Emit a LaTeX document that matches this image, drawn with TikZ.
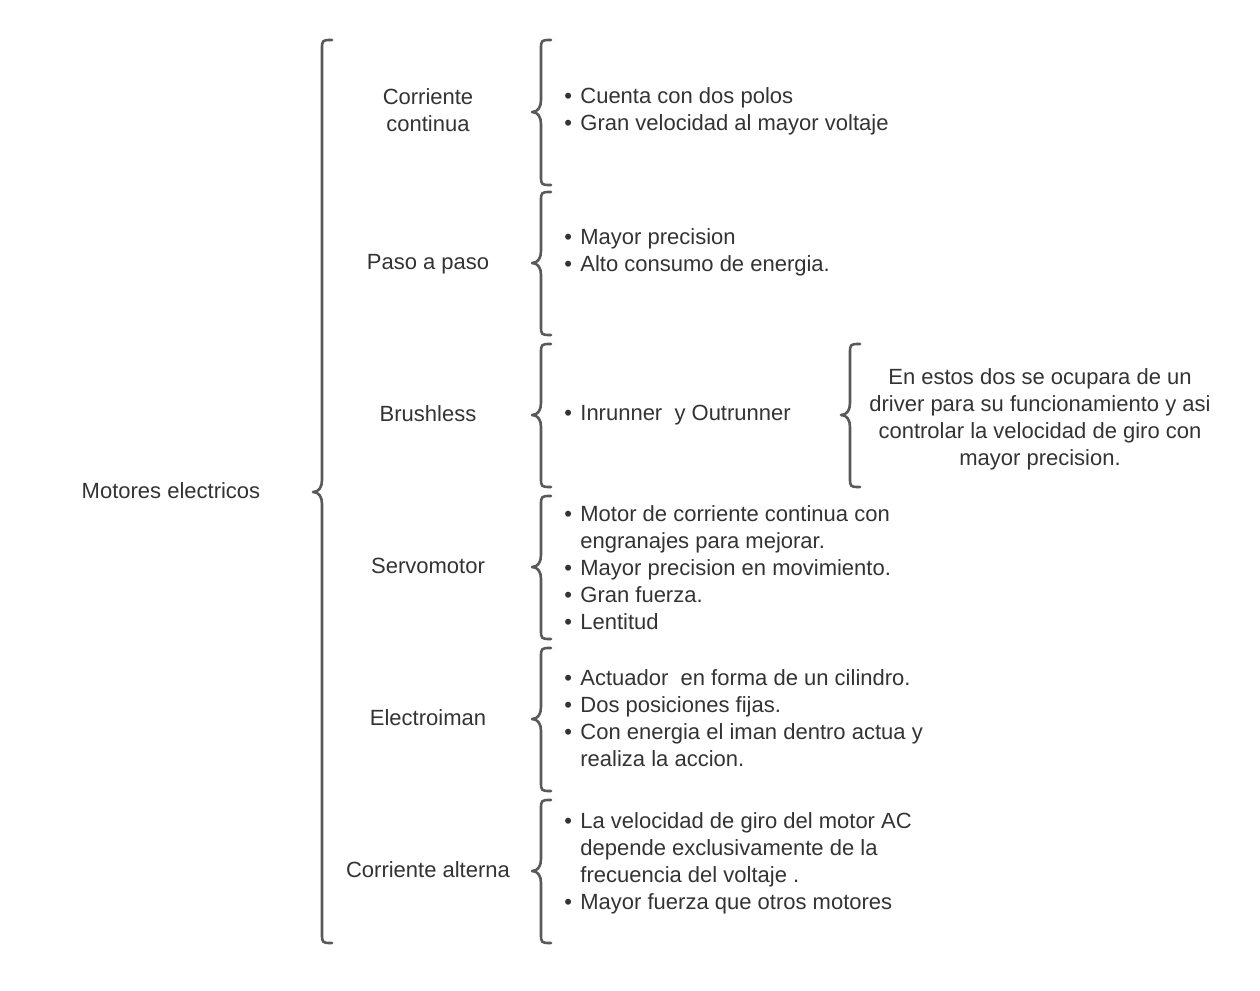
\documentclass[tikz,border=0pt]{standalone}
\usepackage{fontspec}
\setmainfont{Liberation Sans}
\definecolor{txt}{HTML}{333333}
\definecolor{brc}{HTML}{595959}
\newcommand{\mybrace}[4]{% x, top, mid, bottom
  \draw[bracestyle] ({#1+10},#2) .. controls (#1,#2) .. (#1,{#2+10}) -- (#1,{#3-12})
    .. controls (#1,{#3-5}) and ({#1-3},#3) .. ({#1-9},#3)
    .. controls ({#1-3},#3) and (#1,{#3+5}) .. (#1,{#3+12}) -- (#1,{#4-10})
    .. controls (#1,#4) .. ({#1+10},#4);}
\newcommand{\bul}{\makebox[8pt][l]{•}}
\newcommand{\ind}{\hspace*{8pt}}
\begin{document}
\begin{tikzpicture}[x=0.5pt,y=-0.5pt,
  bracestyle/.style={draw=brc,line width=1.3pt,line cap=round,line join=round},
  lbl/.style={inner sep=0pt,text=txt,font=\fontsize{11}{13.5}\selectfont,align=center},
  items/.style={inner sep=0pt,text=txt,font=\fontsize{11}{13.5}\selectfont,align=left,anchor=west}]
\useasboundingbox (0,0) rectangle (1260,991);
% braces
\mybrace{322}{40}{492}{943}
\mybrace{541}{40}{112}{185}
\mybrace{541}{192}{263}{335}
\mybrace{541}{344}{415}{487}
\mybrace{541}{496}{567}{639}
\mybrace{541}{648}{719}{791}
\mybrace{541}{800}{871}{943}
\mybrace{850}{344}{415}{487}
% labels
\node[lbl] (root) at (171,491) {Motores electricos};
\node[lbl] (cc) at (428,110) {Corriente\\continua};
\node[lbl] (pp) at (428,264) {Paso a paso};
\node[lbl] (bl) at (428,414) {Brushless};
\node[lbl] (sm) at (428,566) {Servomotor};
\node[lbl] (em) at (428,718) {Electroiman};
\node[lbl] (ca) at (428,870) {Corriente alterna};
% items
\node[items] (icc) at (564,111) {\bul Cuenta con dos polos\\\bul Gran velocidad al mayor voltaje};
\node[items] (ipp) at (564,252) {\bul Mayor precision\\\bul Alto consumo de energia.};
\node[items] (ibl) at (564,415) {\bul Inrunner\ \ y Outrunner};
\node[items] (ism) at (564,568) {\bul Motor de corriente continua con\\\ind engranajes para mejorar.\\\bul Mayor precision en movimiento.\\\bul Gran fuerza.\\\bul Lentitud};
\node[items] (iem) at (564,718) {\bul Actuador\ \ en forma de un cilindro.\\\bul Dos posiciones fijas.\\\bul Con energia el iman dentro actua y\\\ind realiza la accion.};
\node[items] (ica) at (564,863) {\bul La velocidad de giro del motor AC\\\ind depende exclusivamente de la\\\ind frecuencia del voltaje .\\\bul Mayor fuerza que otros motores};
\node[lbl] (note) at (1040,419) {En estos dos se ocupara de un\\driver para su funcionamiento y asi\\controlar la velocidad de giro con\\mayor precision.};
\end{tikzpicture}
\end{document}
